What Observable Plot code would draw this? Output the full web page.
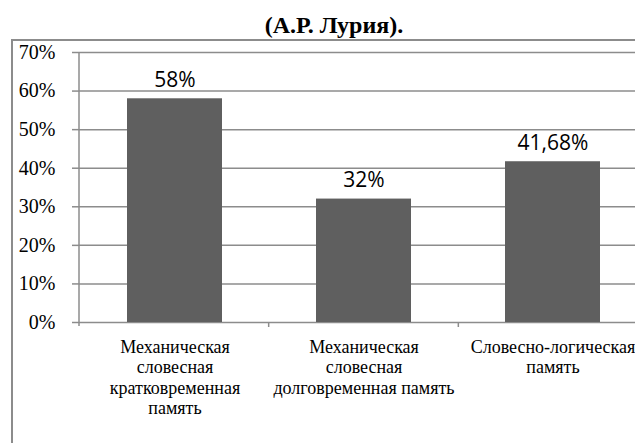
<!DOCTYPE html>
<html><head><meta charset="utf-8">
<script src="https://cdn.jsdelivr.net/npm/d3@7"></script>
<script src="https://cdn.jsdelivr.net/npm/@observablehq/plot@0.6"></script>
<style>
html,body{margin:0;padding:0;overflow:hidden;background:#fff}
</style></head><body>
<div id="wrap" style="position:relative;width:635px;height:443px;overflow:hidden">
<div id="title" style="position:absolute;left:0;top:11px;width:668px;text-align:center;font-family:'Liberation Serif';font-weight:bold;font-size:24px;line-height:28px;color:#000;white-space:nowrap">(А.Р. Лурия).</div>
<div id="box" style="position:absolute;left:11px;top:39px;width:700px;height:500px;border:2px solid #8c8c8c;box-sizing:border-box"></div>
<div id="chart" style="position:absolute;left:0;top:40px;width:660px"></div>
</div>
<script>
const categories = [
  "Механическая\nсловесная\nкратковременная\nпамять",
  "Механическая\nсловесная\nдолговременная память",
  "Словесно-логическая\nпамять"
];
const values = [58, 32, 41.68];
const valueLabels = ["58%", "32%", "41,68%"];
const yTicks = [0, 10, 20, 30, 40, 50, 60, 70];

const data = categories.map((c, i) => ({cat: c, value: values[i], label: valueLabels[i]}));
const GRID = "#8c8c8c";

function boundaryTicks(index, scales, vals, dims) {
  const {marginLeft, marginRight, marginTop, marginBottom, width, height} = dims;
  const g = d3.create("svg:g").attr("stroke", GRID).attr("stroke-width", 1.5);
  const n = categories.length;
  const step = (width - marginLeft - marginRight) / n;
  const y0 = height - marginBottom;
  g.append("line").attr("x1", marginLeft).attr("x2", marginLeft).attr("y1", marginTop).attr("y2", y0 + 4);
  for (let i = 1; i <= n; i++) {
    const x = marginLeft + i * step;
    g.append("line").attr("x1", x).attr("x2", x).attr("y1", y0).attr("y2", y0 + 5);
  }
  return g.node();
}

const chart = Plot.plot({
  width: 660,
  height: 403,
  marginLeft: 79,
  marginRight: 12,
  marginTop: 12,
  marginBottom: 121,
  style: {fontFamily: "Liberation Serif", background: "transparent", maxWidth: "none"},
  x: {domain: categories, paddingInner: 0.5, paddingOuter: 0.25, label: null},
  y: {domain: [0, 70], label: null},
  marks: [
    Plot.gridY(yTicks, {stroke: GRID, strokeOpacity: 1, strokeWidth: 1.5}),
    Plot.barY(data, {x: "cat", y: "value", fill: "#5f5f5f"}),
    boundaryTicks,
    Plot.axisY(yTicks, {tickFormat: d => d + "%", tickSize: 7, tickPadding: 17, stroke: GRID, strokeWidth: 1.5, fill: "#000", fontSize: 20, fontFamily: "Liberation Serif", label: null}),
    Plot.axisX({tickSize: 0, tickPadding: 16, fill: "#000", fontSize: 18, lineHeight: 1.13, fontFamily: "Liberation Serif", label: null}),
    Plot.text(data, {x: "cat", y: "value", text: "label", dy: -12, lineAnchor: "bottom", fontSize: 21, fontFamily: "Open Sans", fill: "#000"})
  ]
});
chart.style.maxWidth = "none";
document.getElementById("chart").appendChild(chart);
</script>
</body></html>
